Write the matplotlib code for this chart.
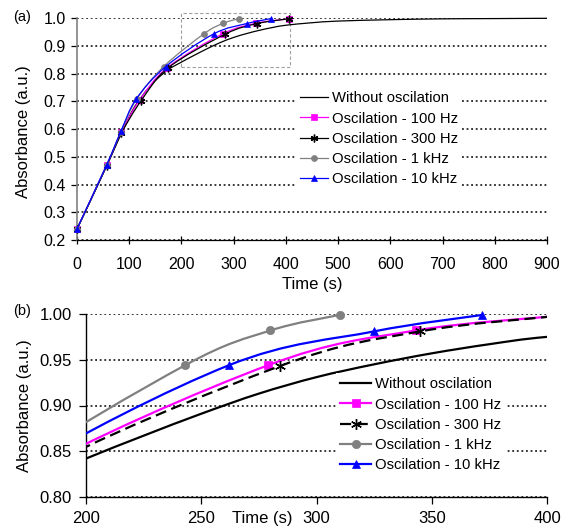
import numpy as np
import matplotlib
matplotlib.use("Agg")
import matplotlib.pyplot as plt
from matplotlib.path import Path
from matplotlib.patches import PathPatch, Rectangle
from matplotlib.lines import Line2D
from matplotlib.ticker import FormatStrFormatter

plt.rcParams["font.family"] = ["Liberation Sans", "DejaVu Sans"]

# ---- data ----
t_without = [0, 50, 100, 125, 150, 175, 200, 225, 250, 275, 300, 325, 350,
             375, 400, 450, 500, 600, 700, 800, 900]
a_without = [0.24, 0.44, 0.645, 0.72, 0.775, 0.815, 0.842, 0.867, 0.891, 0.913,
             0.931, 0.945, 0.957, 0.967, 0.975, 0.984, 0.99, 0.995, 0.998,
             0.999, 1.0]

t_100 = [0, 57, 85, 120, 173, 279, 343, 405]
a_100 = [0.24, 0.47, 0.588, 0.705, 0.822, 0.944, 0.982, 0.998]

t_300 = [0, 57, 85, 123, 175, 284, 345, 405]
a_300 = [0.238, 0.468, 0.585, 0.703, 0.822, 0.943, 0.981, 0.998]

t_1k = [0, 57, 84, 114, 166, 243, 280, 310]
a_1k = [0.24, 0.472, 0.59, 0.708, 0.826, 0.944, 0.982, 0.999]

t_10k = [0, 57, 84, 113, 170, 262, 325, 372]
a_10k = [0.24, 0.472, 0.592, 0.708, 0.826, 0.944, 0.981, 0.999]

labels = ["Without oscilation", "Oscilation - 100 Hz", "Oscilation - 300 Hz",
          "Oscilation - 1 kHz", "Oscilation - 10 kHz"]

STAR = (6, 2, 0)


def smooth_path(x, y):
    # Excel-like smoothed line: cubic Bezier through the given points
    x = np.asarray(x, float)
    y = np.asarray(y, float)
    n = len(x)
    verts = [(x[0], y[0])]
    codes = [Path.MOVETO]
    for i in range(n - 1):
        p0 = i - 1 if i > 0 else i
        p3 = i + 2 if i + 2 < n else i + 1
        c1 = (x[i] + (x[i + 1] - x[p0]) / 6, y[i] + (y[i + 1] - y[p0]) / 6)
        c2 = (x[i + 1] - (x[p3] - x[i]) / 6, y[i + 1] - (y[p3] - y[i]) / 6)
        verts += [c1, c2, (x[i + 1], y[i + 1])]
        codes += [Path.CURVE4] * 3
    return Path(verts, codes)


def marker_size(mk, ms):
    if mk == STAR:
        return ms * 1.3
    if mk == "s":
        return ms * 0.85
    return ms


def draw_panel(ax, lw, ms, dashed_300, clip_top):
    series = [
        (t_without, a_without, "black", None, "-"),
        (t_100, a_100, "#FF00FF", "s", "-"),
        (t_300, a_300, "black", STAR, (0, (5, 2.5)) if dashed_300 else "-"),
        (t_1k, a_1k, "#808080", "o", "-"),
        (t_10k, a_10k, "#0000FF", "^", "-"),
    ]
    # draw order: without first, then 300, 100, 1k, 10k
    order = [0, 2, 1, 3, 4]
    for k in order:
        t, a, col, mk, ls = series[k]
        patch = PathPatch(smooth_path(t, a), fill=False, edgecolor=col,
                          lw=lw, linestyle=ls, capstyle="butt", zorder=3 + k)
        ax.add_patch(patch)
        patch.set_clip_on(clip_top)
        if mk is not None:
            ln, = ax.plot(t, a, linestyle="none", marker=mk, color=col,
                          markersize=marker_size(mk, ms), markeredgecolor=col,
                          markeredgewidth=1.0 if mk == STAR else 0.5,
                          zorder=3 + k)
            if clip_top:
                rect = Rectangle((0, -0.1), 1, 1.2, transform=ax.transAxes)
                ln.set_clip_path(rect)
                ln.set_clip_on(True)
            else:
                ln.set_clip_on(False)
    handles = []
    for t, a, col, mk, ls in series:
        handles.append(Line2D([], [], color=col, lw=lw, linestyle=ls,
                              marker=mk, markersize=marker_size(mk, ms),
                              markeredgecolor=col,
                              markeredgewidth=1.0 if mk == STAR else 0.5))
    return handles


fig = plt.figure(figsize=(5.68, 5.28), dpi=100)

grid_kw = dict(color="black", linestyle=(0, (1.2, 1.8)), linewidth=1.1)

# ---------------- panel (a) ----------------
ax1 = fig.add_axes([77 / 568, 1 - 240 / 528, 470 / 568, 221.7 / 528])
h1 = draw_panel(ax1, lw=0.9, ms=4.3, dashed_300=False, clip_top=False)
ax1.set_xlim(0, 900)
ax1.set_ylim(0.2, 1.0)
ax1.set_xticks(np.arange(0, 901, 100))
ax1.set_yticks(np.arange(0.2, 1.01, 0.1))
ax1.yaxis.set_major_formatter(FormatStrFormatter("%.1f"))
ax1.yaxis.grid(True, **grid_kw)
ax1.set_axisbelow(True)
for s in ["top", "right"]:
    ax1.spines[s].set_visible(False)
ax1.spines["left"].set_color("#808080")
ax1.spines["left"].set_linewidth(1.2)
ax1.spines["bottom"].set_linewidth(0.9)
ax1.tick_params(axis="x", direction="inout", length=6, width=0.9,
                labelsize=11.5, pad=9)
ax1.tick_params(axis="y", direction="out", length=4, width=0.9,
                labelsize=11.5, pad=4)
ax1.set_xlabel("Time (s)", fontsize=12)
ax1.xaxis.set_label_coords(0.5, -0.165)
ax1.set_ylabel("Absorbance (a.u.)", fontsize=12)
ax1.yaxis.set_label_coords(-0.098, 0.49)

zoom_box = Rectangle((200, 0.823), 207, 0.197, fill=False,
                     edgecolor="#A0A0A0", lw=0.8, linestyle=(0, (3, 2)),
                     clip_on=False, zorder=2)
ax1.add_patch(zoom_box)

leg1 = ax1.legend(h1, labels, loc="upper left",
                  bbox_to_anchor=(296 / 568, 1 - 87 / 528),
                  bbox_transform=fig.transFigure, fontsize=10.7,
                  handlelength=1.85, handletextpad=0.25, labelspacing=0.42,
                  borderpad=0.3, borderaxespad=0, frameon=True,
                  fancybox=False, edgecolor="none", facecolor="white",
                  framealpha=1)
leg1.set_zorder(20)

# ---------------- panel (b) ----------------
ax2 = fig.add_axes([86 / 568, 1 - 497 / 528, 461 / 568, 183 / 528])
h2 = draw_panel(ax2, lw=1.6, ms=6.0, dashed_300=True, clip_top=True)
ax2.set_xlim(200, 400)
ax2.set_ylim(0.8, 1.0)
ax2.set_xticks(np.arange(200, 401, 50))
ax2.set_yticks(np.arange(0.80, 1.001, 0.05))
ax2.yaxis.set_major_formatter(FormatStrFormatter("%.2f"))
ax2.yaxis.grid(True, **grid_kw)
ax2.set_axisbelow(True)
for s in ["top", "right"]:
    ax2.spines[s].set_visible(False)
ax2.spines["left"].set_linewidth(1.0)
ax2.spines["bottom"].set_linewidth(1.0)
ax2.tick_params(axis="x", direction="out", length=5, width=0.9,
                labelsize=12, pad=5)
ax2.tick_params(axis="y", direction="out", length=5, width=0.9,
                labelsize=12, pad=5)
ax2.text((262 - 86) / 461, (497 - 518) / 183, "Time (s)", fontsize=12,
         transform=ax2.transAxes, ha="center", va="center")
ax2.set_ylabel("Absorbance (a.u.)", fontsize=12)
ax2.yaxis.set_label_coords(-0.118, 0.5)

leg2 = ax2.legend(h2, labels, loc="upper left",
                  bbox_to_anchor=(336 / 568, 1 - 373 / 528),
                  bbox_transform=fig.transFigure, fontsize=10.7,
                  handlelength=2.05, handletextpad=0.25, labelspacing=0.42,
                  borderpad=0.3, borderaxespad=0, frameon=True,
                  fancybox=False, edgecolor="none", facecolor="white",
                  framealpha=1)
leg2.set_zorder(20)

fig.text(13 / 568, 1 - 17.5 / 528, "(a)", fontsize=10.5, va="center")
fig.text(13 / 568, 1 - 311 / 528, "(b)", fontsize=10.5, va="center")

fig.savefig("out.png", dpi=100)
